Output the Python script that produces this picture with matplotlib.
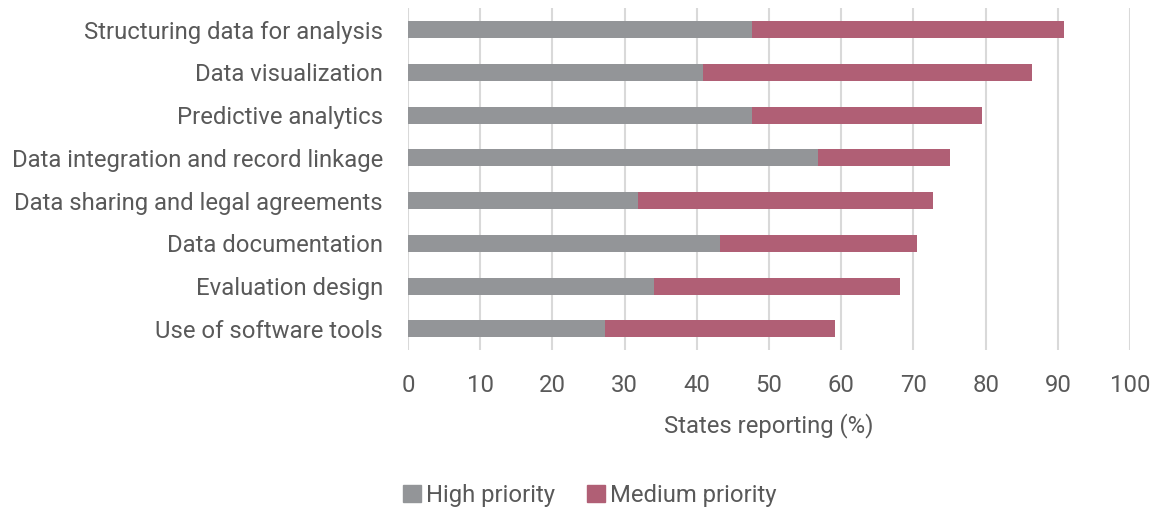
import numpy as np
import matplotlib.pyplot as plt
from matplotlib.patches import Patch

plt.rcParams['font.family'] = ['Roboto', 'DejaVu Sans']

categories = ['Structuring data for analysis', 'Data visualization', 'Predictive analytics',
              'Data integration and record linkage', 'Data sharing and legal agreements',
              'Data documentation', 'Evaluation design', 'Use of software tools']
high = [47.7, 40.9, 47.7, 56.8, 31.8, 43.2, 34.1, 27.3]
medium = [43.2, 45.5, 31.8, 18.2, 40.9, 27.3, 34.1, 31.8]

gray = '#939598'
pink = '#B05F75'
txt = '#595959'
fs = 17.2

fig = plt.figure(figsize=(11.54, 5.12), dpi=100)
ax = fig.add_axes([0.3536, 0.316, 0.6257, 0.668])

y = np.arange(len(categories))
ax.barh(y, high, height=0.4, color=gray, zorder=3)
ax.barh(y, medium, left=high, height=0.4, color=pink, zorder=3)

ax.set_ylim(len(categories) - 0.5, -0.5)
ax.set_xlim(0, 100)
ax.set_xticks(np.arange(0, 101, 10))
ax.set_yticks(y)
ax.set_yticklabels(categories)
ax.grid(axis='x', color='#D9D9D9', linewidth=1.5, zorder=0)
for s in ax.spines.values():
    s.set_visible(False)
ax.tick_params(axis='both', length=0, labelsize=fs, labelcolor=txt)
ax.tick_params(axis='x', pad=17)
ax.tick_params(axis='y', pad=18)
ax.set_xlabel('States reporting (%)', fontsize=fs, color=txt, labelpad=12)

handles = [Patch(color=gray, label='High priority'), Patch(color=pink, label='Medium priority')]
fig.legend(handles=handles, loc='center', bbox_to_anchor=(0.511, 0.033), ncol=2, frameon=False,
           fontsize=fs, labelcolor=txt, handlelength=0.75, handleheight=0.75,
           handletextpad=0.22, columnspacing=1.35)

fig.savefig('out.png', dpi=100)
